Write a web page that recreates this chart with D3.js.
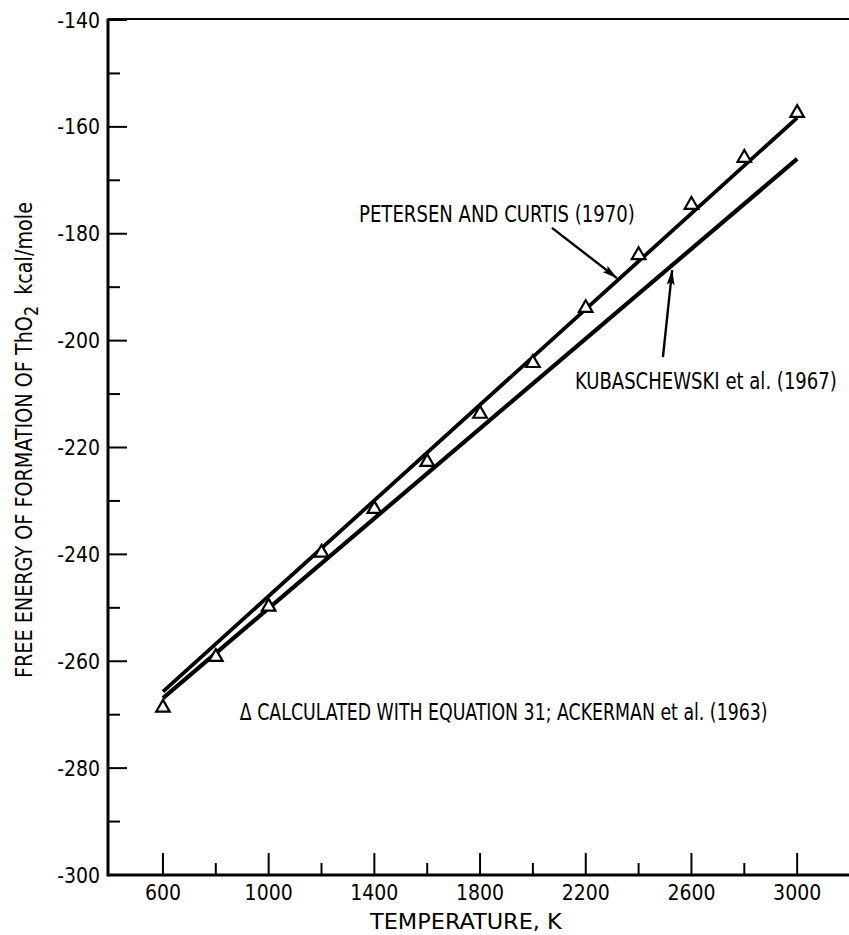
<!DOCTYPE html>
<html>
<head>
<meta charset="utf-8">
<script src="https://cdn.jsdelivr.net/npm/d3@7"></script>
<style>
  html, body { margin: 0; padding: 0; background: #fff; }
  svg { display: block; }
  text { font-family: "Liberation Sans Narrow", "DejaVu Sans Condensed", "Arial Narrow", sans-serif; fill: #000; }
</style>
</head>
<body>
<svg id="chart" width="849" height="935"></svg>
<script>
// Free energy of formation of ThO2 vs temperature
const temperatures = [600, 800, 1000, 1200, 1400, 1600, 1800, 2000, 2200, 2400, 2600, 2800, 3000];
const ackerman = [-268.7, -259.2, -249.8, -239.7, -231.5, -222.7, -213.7, -204.2, -193.9, -184.0, -174.6, -165.8, -157.4];
const petersenT = [600, 3000];
const petersenG = [-265.7, -158.3];
const kubaschewskiT = [600, 3000];
const kubaschewskiG = [-266.9, -166.0];

const xTicks = d3.range(600, 3001, 200);
const xTickLabels = [600, 1000, 1400, 1800, 2200, 2600, 3000];
const yTicks = d3.range(-300, -139, 10);
const yTickLabels = [-300, -280, -260, -240, -220, -200, -180, -160, -140];

const svg = d3.select("#chart");
const x = d3.scaleLinear().domain([392, 3200]).range([108, 850]);
const y = d3.scaleLinear().domain([-300, -140]).range([875, 20]);

const ink = "#000";

// squeeze a text horizontally (about its anchor point) to a given width
function fitWidth(sel, width, rotate) {
  sel.each(function () {
    const t = d3.select(this);
    const w = this.getComputedTextLength();
    const ax = +t.attr("x") || 0, ay = +t.attr("y") || 0;
    t.attr("transform", `translate(${ax},${ay})${rotate ? ` rotate(${rotate})` : ""} scale(${width / w},1) translate(${-ax},${-ay})`);
  });
}

// frame: left spine, bottom axis, top rule
svg.append("line").attr("x1", x(392)).attr("x2", x(392)).attr("y1", y(-140) - 1.5).attr("y2", y(-300) + 1.5)
  .attr("stroke", ink).attr("stroke-width", 3);
svg.append("line").attr("x1", x(392)).attr("x2", x(3200)).attr("y1", y(-300)).attr("y2", y(-300))
  .attr("stroke", ink).attr("stroke-width", 3);
svg.append("line").attr("x1", x(392)).attr("x2", x(3200)).attr("y1", y(-140) - 1).attr("y2", y(-140) - 1)
  .attr("stroke", ink).attr("stroke-width", 2);

// x ticks (pointing inward)
svg.append("g").selectAll("line").data(xTicks).join("line")
  .attr("x1", d => x(d)).attr("x2", d => x(d))
  .attr("y1", y(-300))
  .attr("y2", d => y(-300) - (xTickLabels.includes(d) ? 22 : 12))
  .attr("stroke", ink).attr("stroke-width", 2);

svg.append("g").selectAll("text").data(xTickLabels).join("text")
  .attr("x", d => x(d)).attr("y", 900)
  .attr("text-anchor", "middle").attr("font-size", 21)
  .text(d => d);

// y ticks (pointing inward)
svg.append("g").selectAll("line").data(yTicks).join("line")
  .attr("x1", x(392)).attr("x2", d => x(392) + (yTickLabels.includes(d) ? 19 : 12))
  .attr("y1", d => y(d)).attr("y2", d => y(d))
  .attr("stroke", ink).attr("stroke-width", 2);

svg.append("g").selectAll("text").data(yTickLabels).join("text")
  .attr("x", 100).attr("y", d => y(d) + 7.5)
  .attr("text-anchor", "end").attr("font-size", 21)
  .text(d => "-" + Math.abs(d));

// axis titles
svg.append("text").attr("x", 370).attr("y", 929).attr("font-size", 21)
  .text("TEMPERATURE, K")
  .call(fitWidth, 192);

const yTitle = svg.append("text").attr("x", 32).attr("y", 678).attr("font-size", 23);
yTitle.append("tspan").text("FREE ENERGY OF FORMATION OF ThO");
yTitle.append("tspan").attr("dy", 6).attr("font-size", 19).text("2");
yTitle.append("tspan").attr("dy", -6).attr("dx", 12).text("kcal/mole");
yTitle.call(fitWidth, 465, -90);

// reference lines
const line = d3.line().x(d => x(d[0])).y(d => y(d[1]));
svg.append("path").datum(d3.zip(petersenT, petersenG))
  .attr("d", line).attr("fill", "none").attr("stroke", ink).attr("stroke-width", 3.8);
svg.append("path").datum(d3.zip(kubaschewskiT, kubaschewskiG))
  .attr("d", line).attr("fill", "none").attr("stroke", ink).attr("stroke-width", 4.2);

// calculated points
const tri = d3.symbol().type(d3.symbolTriangle).size(80);
svg.append("g").selectAll("path").data(d3.zip(temperatures, ackerman)).join("path")
  .attr("d", tri)
  .attr("transform", d => `translate(${x(d[0])},${y(d[1])})`)
  .attr("fill", "#fff").attr("stroke", ink).attr("stroke-width", 2.2);

// annotations
svg.append("defs").append("marker")
  .attr("id", "head").attr("viewBox", "0 0 15 8").attr("refX", 15).attr("refY", 4)
  .attr("markerWidth", 15).attr("markerHeight", 8).attr("markerUnits", "userSpaceOnUse")
  .attr("orient", "auto")
  .append("path").attr("d", "M0,0 L15,4 L0,8 L3,4 Z").attr("fill", ink);

const arrows = [
  { from: [2072, -178.9], to: [2318, -188.3] },
  { from: [2492, -203.1], to: [2527, -186.8] }
];
svg.append("g").selectAll("line").data(arrows).join("line")
  .attr("x1", d => x(d.from[0])).attr("y1", d => y(d.from[1]))
  .attr("x2", d => x(d.to[0])).attr("y2", d => y(d.to[1]))
  .attr("stroke", ink).attr("stroke-width", 2.4).attr("marker-end", "url(#head)");

const notes = [
  { t: 1342, g: -177.8, text: "PETERSEN AND CURTIS (1970)", len: 276 },
  { t: 2159, g: -209.05, text: "KUBASCHEWSKI et al. (1967)", len: 262 },
  { t: 891, g: -271.0, text: "\u0394 CALCULATED WITH EQUATION 31; ACKERMAN et al. (1963)", len: 528 }
];
svg.append("g").selectAll("text").data(notes).join("text")
  .attr("x", d => x(d.t)).attr("y", d => y(d.g))
  .attr("font-size", 23)
  .text(d => d.text)
  .each(function (d) { d3.select(this).call(fitWidth, d.len); });
</script>
</body>
</html>
